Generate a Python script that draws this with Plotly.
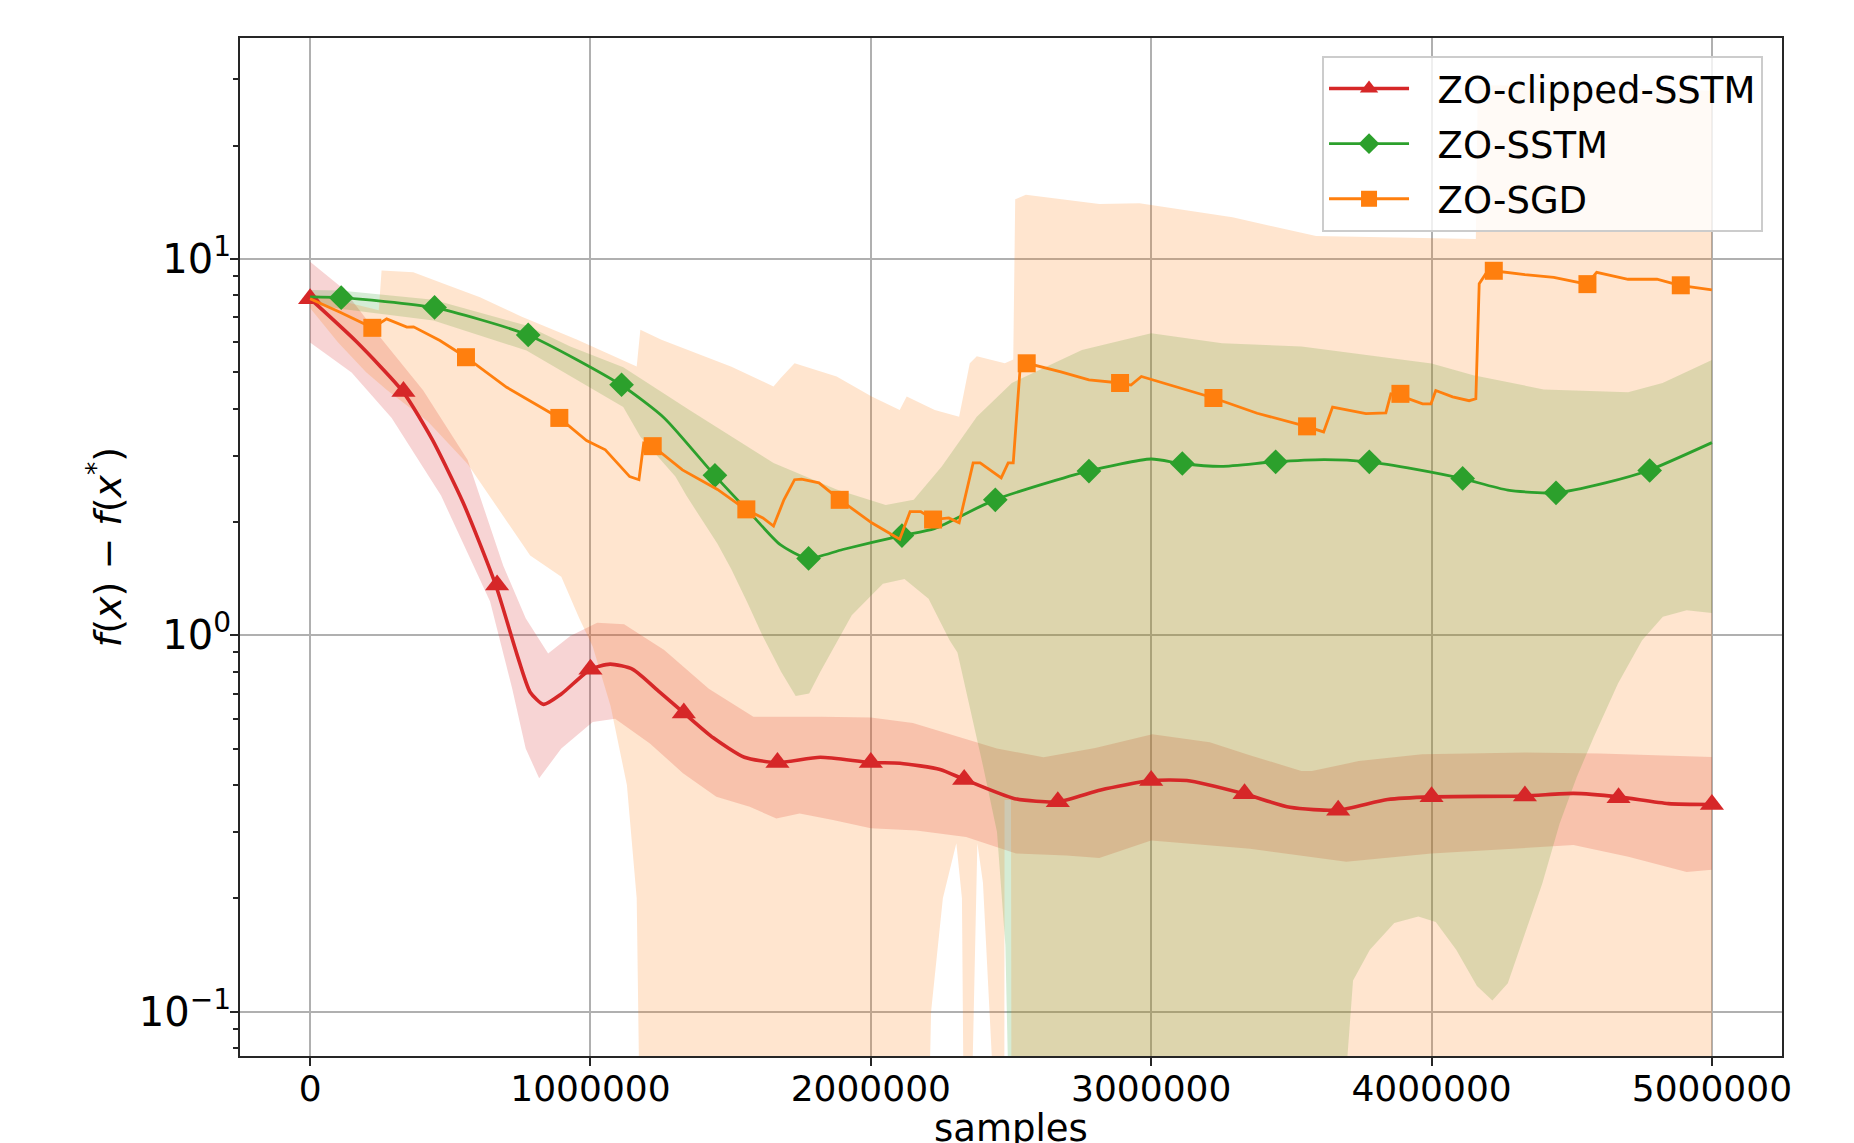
import plotly.graph_objects as go

MILLION = 1_000_000
FLOOR = 0.03  # band edge below the visible axis range (clipped)

# ---------------- ZO-clipped-SSTM (red) ----------------
clipped_line = [
    (0.000, 7.84), (0.164, 6.04), (0.331, 4.44), (0.435, 3.32), (0.546, 2.25),
    (0.662, 1.36), (0.737, 0.894), (0.785, 0.706), (0.833, 0.655), (0.896, 0.698),
    (1.000, 0.812), (1.070, 0.838), (1.151, 0.812), (1.247, 0.706), (1.334, 0.621),
    (1.438, 0.534), (1.549, 0.474), (1.666, 0.459), (1.820, 0.474), (2.000, 0.459),
    (2.104, 0.457), (2.247, 0.440), (2.333, 0.414), (2.513, 0.368), (2.667, 0.361),
    (2.820, 0.388), (3.000, 0.411), (3.127, 0.411), (3.331, 0.379), (3.495, 0.349),
    (3.665, 0.343), (3.843, 0.366), (4.000, 0.372), (4.333, 0.374), (4.506, 0.380),
    (4.667, 0.372), (4.845, 0.357), (5.000, 0.355),
]
clipped_mark_x = [0.000, 0.333, 0.667, 1.000, 1.333, 1.667, 2.000, 2.333,
                  2.667, 3.000, 3.333, 3.667, 4.000, 4.333, 4.667, 5.000]
clipped_mark_y = [7.84, 4.44, 1.36, 0.812, 0.621, 0.459, 0.459, 0.414,
                  0.361, 0.411, 0.379, 0.343, 0.372, 0.374, 0.370, 0.355]
clipped_upper = [
    (0.000, 9.83), (0.116, 8.36), (0.260, 6.06), (0.403, 4.48), (0.562, 2.92),
    (0.689, 1.53), (0.769, 1.11), (0.849, 0.894), (0.928, 0.996), (1.024, 1.08),
    (1.120, 1.07), (1.263, 0.914), (1.422, 0.721), (1.581, 0.607), (1.820, 0.607),
    (2.000, 0.605), (2.150, 0.585), (2.309, 0.539), (2.450, 0.500), (2.616, 0.474),
    (2.800, 0.502), (3.004, 0.546), (3.209, 0.520), (3.352, 0.480), (3.536, 0.436),
    (3.573, 0.436), (3.740, 0.463), (3.966, 0.483), (4.334, 0.488), (4.600, 0.485),
    (5.000, 0.475),
]
clipped_lower = [
    (0.000, 6.00), (0.148, 4.99), (0.291, 3.78), (0.467, 2.35), (0.642, 1.23),
    (0.721, 0.721), (0.769, 0.500), (0.817, 0.417), (0.896, 0.500), (1.008, 0.588),
    (1.088, 0.600), (1.212, 0.516), (1.330, 0.430), (1.449, 0.372), (1.568, 0.350),
    (1.663, 0.326), (1.746, 0.336), (1.865, 0.323), (2.000, 0.307), (2.162, 0.303),
    (2.340, 0.291), (2.518, 0.263), (2.697, 0.260), (2.815, 0.256), (3.000, 0.285),
    (3.352, 0.271), (3.696, 0.250), (4.000, 0.263), (4.506, 0.277), (4.702, 0.258),
    (4.910, 0.235), (5.000, 0.238),
]

# ---------------- ZO-SSTM (green) ----------------
sstm_line = [
    (0.000, 7.93), (0.111, 7.89), (0.439, 7.43), (0.777, 6.28), (1.108, 4.63),
    (1.263, 3.78), (1.443, 2.66), (1.580, 2.07), (1.677, 1.74), (1.775, 1.60),
    (1.900, 1.69), (2.111, 1.84), (2.227, 1.92), (2.442, 2.29), (2.775, 2.73),
    (3.000, 2.94), (3.106, 2.86), (3.250, 2.81), (3.440, 2.89), (3.618, 2.93),
    (3.775, 2.89), (3.945, 2.76), (4.108, 2.61), (4.272, 2.43), (4.442, 2.39),
    (4.620, 2.54), (4.773, 2.74), (5.000, 3.25),
]
sstm_mark_x = [0.111, 0.444, 0.778, 1.111, 1.444, 1.778, 2.111, 2.444,
               2.778, 3.111, 3.444, 3.778, 4.111, 4.444, 4.778]
sstm_mark_y = [7.89, 7.43, 6.28, 4.63, 2.66, 1.60, 1.84, 2.29,
               2.73, 2.86, 2.89, 2.89, 2.61, 2.39, 2.74]
sstm_upper = [
    (0.000, 8.27), (0.107, 8.24), (0.440, 7.79), (0.772, 6.65), (0.928, 5.85),
    (1.117, 5.15), (1.353, 3.97), (1.503, 3.38), (1.653, 2.87), (1.878, 2.44),
    (2.053, 2.22), (2.153, 2.29), (2.253, 2.81), (2.378, 3.81), (2.503, 4.68),
    (2.753, 5.73), (3.000, 6.35), (3.253, 5.97), (3.536, 5.85), (4.000, 5.27),
    (4.149, 4.91), (4.400, 4.50), (4.701, 4.42), (4.824, 4.68), (5.000, 5.39),
]
sstm_lower = [
    (0.000, 7.60), (0.107, 7.37), (0.440, 6.86), (0.772, 5.71), (1.117, 4.04),
    (1.178, 3.37), (1.303, 2.64), (1.342, 2.35), (1.453, 1.75), (1.502, 1.50),
    (1.560, 1.22), (1.613, 1.00), (1.680, 0.80), (1.732, 0.69), (1.780, 0.70),
    (1.820, 0.80), (1.932, 1.13), (2.043, 1.37), (2.120, 1.41), (2.206, 1.25),
    (2.281, 0.97), (2.309, 0.90), (2.400, 0.45), (2.450, 0.30), (2.480, 0.15),
    (2.500, FLOOR), (3.660, FLOOR), (3.720, 0.121), (3.780, 0.146), (3.867, 0.172),
    (3.953, 0.179), (4.015, 0.173), (4.088, 0.146), (4.162, 0.117), (4.217, 0.107),
    (4.272, 0.119), (4.334, 0.161), (4.395, 0.219), (4.457, 0.316), (4.518, 0.420),
    (4.579, 0.537), (4.665, 0.744), (4.751, 0.970), (4.825, 1.12), (4.910, 1.165),
    (5.000, 1.146),
]

# ---------------- ZO-SGD (orange) ----------------
sgd_line = [
    (0.000, 7.84), (0.107, 7.22), (0.223, 6.56), (0.273, 6.93), (0.345, 6.59),
    (0.369, 6.60), (0.463, 6.07), (0.556, 5.48), (0.701, 4.56), (0.820, 4.04),
    (0.889, 3.78), (0.986, 3.29), (1.053, 3.11), (1.140, 2.64), (1.173, 2.59),
    (1.190, 3.24), (1.223, 3.18), (1.328, 2.75), (1.453, 2.44), (1.553, 2.16),
    (1.615, 2.05), (1.653, 1.95), (1.690, 2.29), (1.728, 2.59), (1.753, 2.60),
    (1.815, 2.54), (1.890, 2.29), (2.003, 1.99), (2.065, 1.87), (2.103, 1.80),
    (2.140, 2.13), (2.178, 2.13), (2.223, 2.03), (2.278, 2.05), (2.315, 1.99),
    (2.365, 2.87), (2.390, 2.87), (2.465, 2.62), (2.490, 2.87), (2.508, 2.87),
    (2.533, 5.18), (2.558, 5.28), (2.678, 5.01), (2.778, 4.77), (2.890, 4.68),
    (2.928, 4.62), (2.965, 4.87), (3.103, 4.54), (3.223, 4.27), (3.378, 3.89),
    (3.553, 3.59), (3.615, 3.47), (3.647, 4.04), (3.766, 3.88), (3.837, 3.90),
    (3.855, 4.38), (3.887, 4.33), (3.968, 4.12), (3.998, 4.12), (4.015, 4.47),
    (4.075, 4.30), (4.134, 4.20), (4.158, 4.25), (4.170, 8.59), (4.193, 9.12),
    (4.221, 9.30), (4.333, 9.08), (4.436, 8.93), (4.554, 8.57), (4.589, 9.21),
    (4.701, 8.83), (4.804, 8.83), (4.885, 8.51), (5.000, 8.27),
]
sgd_mark_x = [0.222, 0.556, 0.889, 1.222, 1.556, 1.889, 2.222, 2.556,
              2.889, 3.222, 3.556, 3.889, 4.222, 4.556, 4.889]
sgd_mark_y = [6.56, 5.48, 3.78, 3.18, 2.16, 2.29, 2.03, 5.28,
              4.68, 4.27, 3.59, 4.38, 9.30, 8.57, 8.51]
sgd_upper = [
    (0.000, 8.10), (0.120, 7.70), (0.245, 7.30), (0.255, 9.31), (0.368, 9.22),
    (0.503, 8.45), (0.606, 7.91), (0.753, 7.03), (0.953, 6.10), (1.165, 5.18),
    (1.178, 6.48), (1.253, 6.10), (1.503, 5.17), (1.653, 4.58), (1.678, 4.82),
    (1.728, 5.28), (1.878, 4.87), (2.003, 4.31), (2.103, 3.97), (2.128, 4.31),
    (2.228, 3.97), (2.315, 3.81), (2.353, 5.28), (2.378, 5.51), (2.478, 5.28),
    (2.508, 5.40), (2.515, 14.4), (2.553, 14.8), (2.815, 14.0), (2.958, 14.06),
    (3.290, 12.9), (3.588, 11.5), (4.158, 11.3), (4.165, 29.0), (5.000, 28.0),
]
sgd_lower = [
    (0.000, 7.40), (0.100, 6.00), (0.200, 5.00), (0.275, 4.48), (0.420, 3.70),
    (0.562, 2.85), (0.785, 1.63), (0.896, 1.43), (0.960, 1.11), (1.008, 0.933),
    (1.072, 0.648), (1.130, 0.400), (1.165, 0.200), (1.180, FLOOR), (2.200, FLOOR),
    (2.215, 0.100), (2.257, 0.200), (2.305, 0.280), (2.325, 0.200), (2.334, FLOOR),
    (2.352, FLOOR), (2.380, 0.280), (2.400, 0.220), (2.459, FLOOR), (2.476, FLOOR),
    (2.477, 0.365), (2.500, 0.365), (2.502, FLOOR), (5.000, FLOOR),
]

x_tick_vals = [0, 1, 2, 3, 4, 5]
x_tick_text = ["0", "1000000", "2000000", "3000000", "4000000", "5000000"]
y_tick_vals = [0.1, 1, 10]
y_tick_text = ["10<sup>−1</sup>", "10<sup>0</sup>", "10<sup>1</sup>"]
y_minor_vals = [0.08, 0.09] + [k / 10 for k in range(2, 10)] + list(range(2, 10)) + [20, 30]
x_title = "samples"
y_title = "<i>f</i>(<i>x</i>) − <i>f</i>(<i>x</i><sup>*</sup>)"

series = [
    dict(name="ZO-clipped-SSTM", color=(214, 39, 40), line=clipped_line,
         mx=clipped_mark_x, my=clipped_mark_y, upper=clipped_upper, lower=clipped_lower,
         symbol="triangle-up", msize=21, lw=3.6, shape="spline"),
    dict(name="ZO-SSTM", color=(44, 160, 44), line=sstm_line,
         mx=sstm_mark_x, my=sstm_mark_y, upper=sstm_upper, lower=sstm_lower,
         symbol="diamond", msize=19, lw=2.8, shape="spline"),
    dict(name="ZO-SGD", color=(255, 127, 14), line=sgd_line,
         mx=sgd_mark_x, my=sgd_mark_y, upper=sgd_upper, lower=sgd_lower,
         symbol="square", msize=18, lw=2.8, shape="linear"),
]

def rgb(c, a=None):
    if a is None:
        return "rgb(%d,%d,%d)" % c
    return "rgba(%d,%d,%d,%.2f)" % (c + (a,))

fig = go.Figure()

# shaded bands first
for s in series:
    xs = [p[0] * MILLION for p in s["upper"]] + [p[0] * MILLION for p in reversed(s["lower"])]
    ys = [p[1] for p in s["upper"]] + [p[1] for p in reversed(s["lower"])]
    fig.add_trace(go.Scatter(x=xs, y=ys, mode="lines", fill="toself",
                             fillcolor=rgb(s["color"], 0.2), line=dict(width=0),
                             hoverinfo="skip", showlegend=False))

# mean lines and their markers
for s in series:
    fig.add_trace(go.Scatter(x=[p[0] * MILLION for p in s["line"]],
                             y=[p[1] for p in s["line"]], mode="lines",
                             line=dict(color=rgb(s["color"]), width=s["lw"],
                                       shape=s["shape"], smoothing=0.6),
                             showlegend=False, legendgroup=s["name"]))
    fig.add_trace(go.Scatter(x=[v * MILLION for v in s["mx"]], y=s["my"], mode="markers",
                             marker=dict(symbol=s["symbol"], size=s["msize"],
                                         color=rgb(s["color"]), line=dict(width=0)),
                             showlegend=False, legendgroup=s["name"]))

# legend entries (non-breaking spaces give the gap between sample and label)
for s in series:
    fig.add_trace(go.Scatter(x=[None], y=[None], mode="lines+markers",
                             name="\u00a0\u00a0" + s["name"],
                             legendgroup=s["name"],
                             line=dict(color=rgb(s["color"]), width=s["lw"]),
                             marker=dict(symbol=s["symbol"], size=s["msize"],
                                         color=rgb(s["color"]))))

axis_common = dict(showline=True, mirror=True, linecolor="#262626", linewidth=2,
                   showgrid=True, gridcolor="#b0b0b0", gridwidth=1.5, zeroline=False,
                   ticks="outside", ticklen=8, tickwidth=2, tickcolor="#262626")

fig.update_layout(
    width=1846, height=1135,
    margin=dict(l=232, r=72, t=30, b=87, autoexpand=False),
    paper_bgcolor="white", plot_bgcolor="white",
    font=dict(family="DejaVu Sans", color="black"),
    xaxis=dict(range=[-0.25 * MILLION, 5.25 * MILLION], tickmode="array",
               tickvals=[v * MILLION for v in x_tick_vals], ticktext=x_tick_text,
               tickfont=dict(family="DejaVu Sans", size=36, color="black"),
               ticklabelstandoff=-8, automargin=False, **axis_common),
    yaxis=dict(type="log", range=[-1.118, 1.587], tickmode="array",
               tickvals=y_tick_vals, ticktext=y_tick_text,
               tickfont=dict(family="DejaVu Sans", size=40, color="black"),
               ticklabelstandoff=-9,
               title=dict(text=y_title, font=dict(size=38), standoff=6),
               minor=dict(tickmode="array", tickvals=y_minor_vals, ticks="outside",
                          ticklen=5, tickwidth=1.5, tickcolor="#262626", showgrid=False),
               automargin=False, **axis_common),
    legend=dict(x=0.9877, y=0.9823, xanchor="right", yanchor="top",
                bgcolor="rgba(255,255,255,0.8)", bordercolor="#cccccc", borderwidth=2,
                font=dict(family="DejaVu Sans", size=37, color="black"),
                tracegroupgap=4, itemwidth=80),
    annotations=[dict(text=x_title, xref="paper", yref="paper", x=0.5, y=-0.0717,
                      xanchor="center", yanchor="middle", showarrow=False,
                      font=dict(family="DejaVu Sans", size=37, color="black"))],
)

fig.write_html("out.html")
